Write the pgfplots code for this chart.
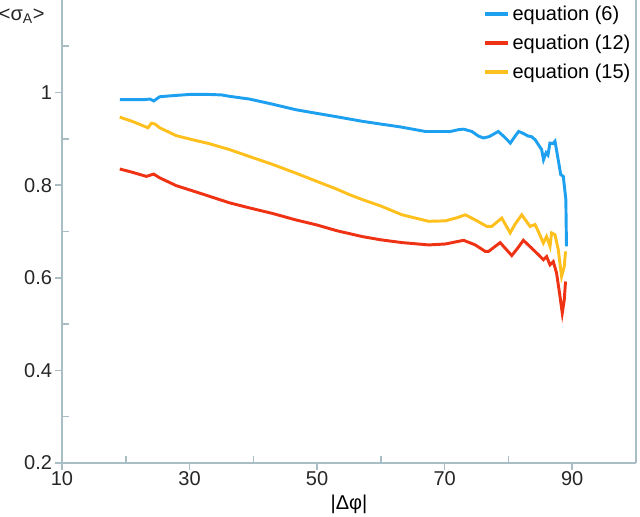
\documentclass[border=0pt]{standalone}
\usepackage{fontspec}
\setmainfont{Liberation Sans}
\usepackage{pgfplots}
\pgfplotsset{compat=1.18}
\definecolor{axgray}{RGB}{168,190,196}
\definecolor{eqblue}{RGB}{30,160,240}
\definecolor{eqred}{RGB}{240,50,20}
\definecolor{eqyellow}{RGB}{255,192,30}

\begin{document}
\begin{tikzpicture}
\begin{axis}[
  scale only axis, width=430.5pt, height=347.25pt,
  xmin=10, xmax=100, ymin=0.2, ymax=1.2,
  clip=false,
  xtick={10,30,50,70,90},
  ytick={0.2,0.4,0.6,0.8,1},
  extra x ticks={20,40,60,80}, extra x tick labels={},
  extra y ticks={0.3,0.5,0.7,0.9,1.1}, extra y tick labels={},
  extra tick style={tick align=inside, major tick length=5pt},
  axis x line*=bottom, axis y line*=box,
  axis line style={axgray, line width=1.5pt, -},
  ytick pos=left,
  tick style={axgray, line width=1.2pt},
  tick align=outside, major tick length=5pt,
  tick label style={font=\fontsize{15}{18}\selectfont, text=black!85},
  xticklabel style={yshift=2pt},
  yticklabel style={xshift=1pt},
  /pgf/number format/assume math mode=true,
  xlabel={|Δφ|},
  xlabel style={font=\fontsize{15}{18}\selectfont, at={(axis description cs:0.5,0)}, anchor=north, inner sep=0pt, yshift=-24pt},
  legend style={at={(1,1)}, anchor=north east, draw=none, fill=none,
    font=\fontsize{15}{18}\selectfont, row sep=5.5pt, inner sep=2pt,
    /tikz/every even column/.append style={column sep=7pt}},
  legend cell align=left,
  legend image code/.code={\draw[#1, line width=2.5pt] (0cm,0cm) -- (0.6cm,0cm);},
]
\addplot[eqblue, line width=2.2pt] coordinates {
 (19.06,0.985) (21,0.985) (23,0.985) (23.8,0.986) (24.4,0.982) (25.3,0.991)
 (27,0.993) (30,0.996) (33,0.996) (35,0.995) (36.25,0.992) (39.4,0.986)
 (43,0.975) (46.67,0.963) (50,0.955) (53,0.948) (57.08,0.938) (60,0.932)
 (63,0.926) (66.98,0.916) (69,0.916) (70.89,0.916) (72.2,0.920) (72.97,0.921)
 (74.27,0.916) (75.31,0.906) (76.09,0.902) (77,0.905) (78.4,0.916) (79.3,0.905)
 (80.3,0.891) (81.0,0.905) (81.6,0.916) (82.3,0.912) (83.1,0.906) (83.6,0.905)
 (84.2,0.898) (85.2,0.877) (85.5,0.855) (85.9,0.870) (86.2,0.865) (86.5,0.891)
 (87.0,0.890) (87.3,0.895) (87.8,0.855) (88.2,0.823) (88.6,0.819) (89.0,0.769)
 (89.1,0.668)
};
\addlegendentry{equation (6)}
\addplot[eqred, line width=2.2pt] coordinates {
 (19.06,0.835) (21,0.828) (23.23,0.819) (24.38,0.824) (25.31,0.816) (27.92,0.799)
 (31.56,0.783) (36.25,0.762) (39.38,0.751) (43,0.739) (46.67,0.725) (50,0.714)
 (53,0.702) (57.08,0.689) (60,0.682) (63.33,0.676) (67.5,0.671) (70.11,0.673)
 (72.97,0.681) (74.8,0.671) (76.36,0.657) (76.88,0.657) (78.7,0.676) (80.52,0.648)
 (81.5,0.665) (82.34,0.681) (83.64,0.664) (84.69,0.650) (85.47,0.639) (85.98,0.646)
 (86.52,0.628) (87.03,0.635) (87.55,0.610) (88.08,0.560) (88.44,0.524) (88.75,0.552)
 (88.95,0.592)
};
\addlegendentry{equation (12)}
\addplot[eqyellow, line width=2.2pt] coordinates {
 (19.06,0.947) (21,0.938) (23.48,0.924) (24.02,0.934) (24.6,0.932) (25.31,0.924)
 (27.92,0.907) (30.52,0.898) (33,0.890) (36.25,0.877) (39.38,0.862) (43,0.845)
 (46.67,0.826) (50,0.808) (53,0.792) (55,0.780) (57.08,0.769) (60,0.755)
 (63.33,0.736) (67.5,0.722) (70.11,0.723) (72,0.730) (73.23,0.736) (74.8,0.725)
 (76.61,0.711) (77.39,0.711) (78.95,0.729) (80.27,0.697) (81,0.715) (82.08,0.736)
 (83.39,0.711) (84.17,0.715) (84.69,0.700) (85.47,0.675) (85.98,0.689) (86.52,0.668)
 (86.77,0.697) (87.3,0.693) (87.81,0.661) (88.33,0.603) (88.75,0.624) (88.95,0.657)
};
\addlegendentry{equation (15)}
\node[font=\fontsize{15}{18}\selectfont, text=black!85, inner sep=0pt] at (axis description cs:-0.07,0.965) {<σ\textsubscript{A}>};
\end{axis}
\pgfresetboundingbox
\path (-46.5pt,-40.5pt) rectangle (433.5pt,347.25pt);
\end{tikzpicture}
\end{document}
